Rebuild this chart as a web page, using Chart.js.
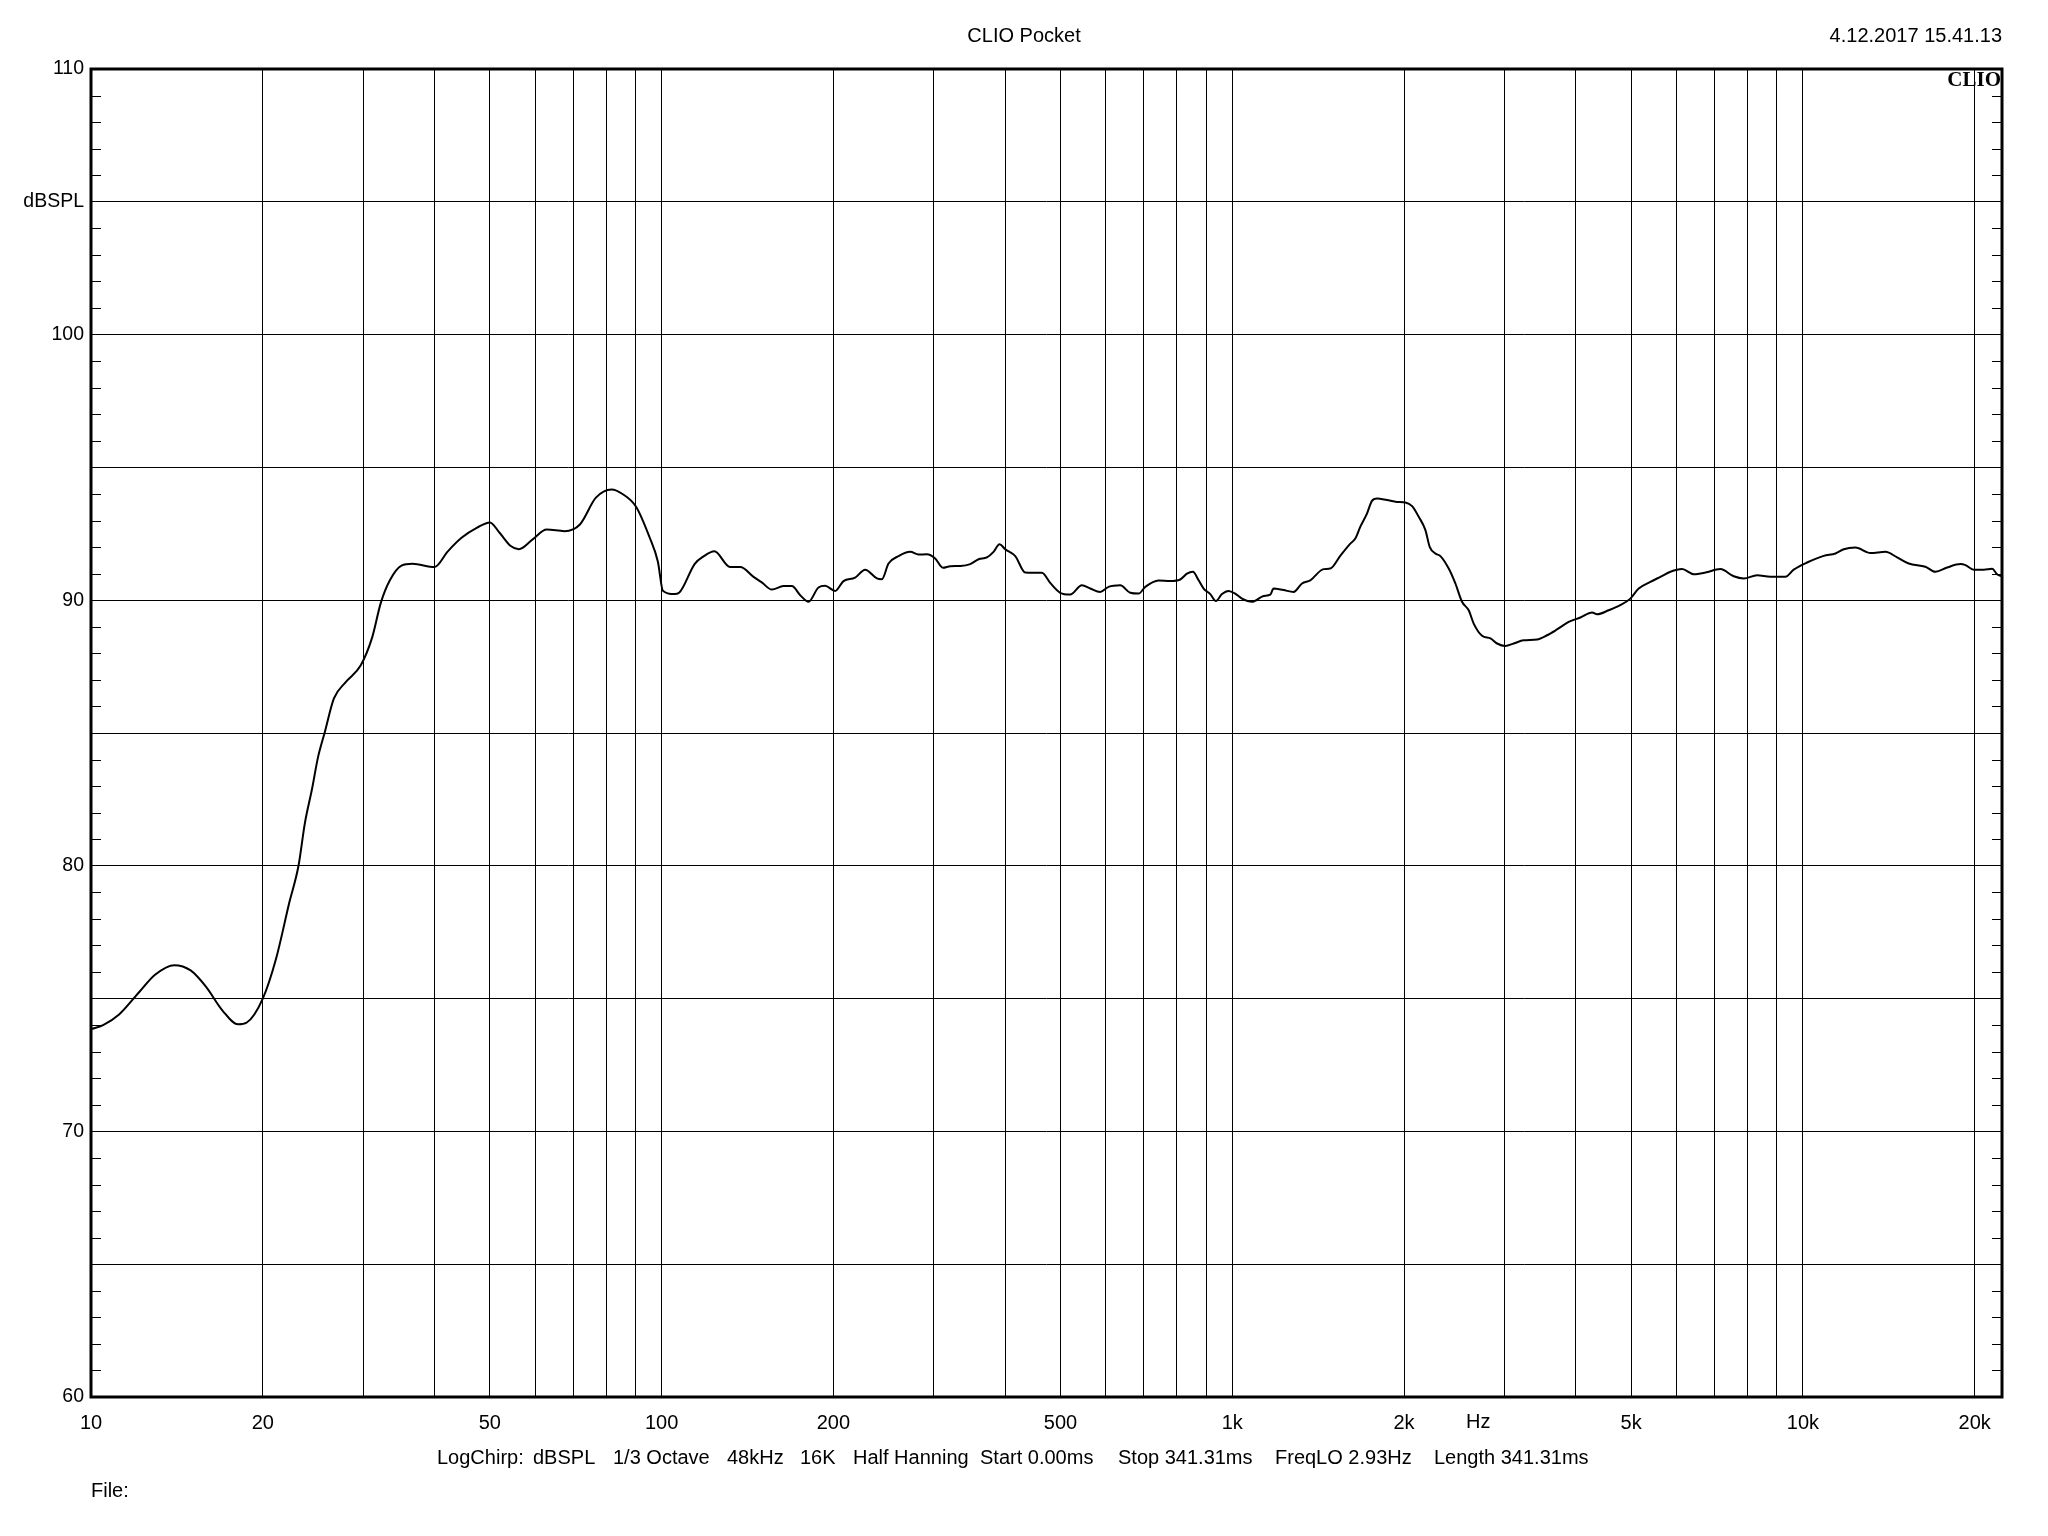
<!DOCTYPE html>
<html><head><meta charset="utf-8">
<script src="https://cdn.jsdelivr.net/npm/chart.js@4.4.1/dist/chart.umd.min.js"></script>
<style>html,body{margin:0;padding:0;background:#fff;}canvas{display:block;background:#fff;}</style>
</head><body>
<canvas id="c" width="2048" height="1536"></canvas>
<script>
const freqHz = [10,10.5,11.2,12.15,12.95,14.0,14.95,15.9,17.0,18.1,18.75,20.0,21.1,22.25,23.1,23.7,24.4,25.0,25.7,26.65,27.9,29.7,31.1,32.2,33.4,35.0,36.6,40.0,42.2,44.6,47.5,50.0,52.0,54.4,56.2,59.5,62.9,67.6,71.9,76.7,81.7,85.4,90.2,95.2,98.5,100.5,105.3,107.3,114.3,118.3,123.7,131.8,137.3,144.9,149.8,156.0,163.5,169.1,174.9,180.9,188.3,193.4,201.4,208.3,218.3,227.3,238.4,243.2,249.8,260.1,272.7,282.0,291.6,301.6,311.1,320.5,333.7,347.4,359.3,371.5,381.6,390.9,400.0,416.6,433.7,448.5,463.8,479.7,499.4,520.0,545.1,563.7,586.9,607.0,636.3,662.5,685.2,703.9,742.7,778.6,810.6,832.9,853.3,873.0,890.8,915.1,936.4,959.2,985.1,1012,1040,1083,1135,1166,1181,1230,1281,1325,1370,1446,1485,1546,1610,1643,1676,1722,1757,1793,1867,1944,2011,2066,2122,2180,2218,2269,2316,2395,2460,2527,2596,2649,2740,2834,2911,3010,3113,3241,3421,3561,3708,3886,4074,4271,4358,4566,4786,4984,5155,5404,5627,5859,6141,6437,6747,7168,7565,7877,8312,8770,9318,9636,10170,10877,11403,11792,12364,13135,13951,14627,15326,16393,17076,17887,18888,19270,19930,20750,21460,21890,22250];
const splDb = [73.85,74.0,74.4,75.25,75.9,76.26,76.06,75.45,74.55,74.03,74.1,75.0,76.5,78.6,80.0,81.6,82.9,84.1,85.05,86.3,86.9,87.55,88.6,89.9,90.75,91.3,91.37,91.25,91.84,92.35,92.73,92.93,92.54,92.04,91.92,92.3,92.66,92.6,92.85,93.86,94.17,94.0,93.52,92.38,91.45,90.36,90.23,90.28,91.37,91.64,91.84,91.25,91.25,90.88,90.67,90.40,90.53,90.53,90.19,89.94,90.48,90.54,90.35,90.72,90.85,91.15,90.82,90.79,91.38,91.66,91.82,91.72,91.73,91.57,91.22,91.28,91.29,91.36,91.54,91.61,91.82,92.11,91.92,91.66,91.04,91.03,91.03,90.65,90.28,90.21,90.56,90.44,90.31,90.50,90.56,90.28,90.25,90.50,90.74,90.72,90.78,91.00,91.07,90.75,90.44,90.23,89.97,90.23,90.35,90.25,90.06,89.94,90.16,90.21,90.44,90.38,90.31,90.63,90.75,91.17,91.19,91.67,92.13,92.32,92.76,93.26,93.74,93.83,93.77,93.70,93.68,93.54,93.14,92.64,92.01,91.76,91.66,91.19,90.63,89.94,89.62,89.12,88.66,88.56,88.37,88.28,88.37,88.49,88.52,88.68,88.90,89.18,89.35,89.54,89.47,89.62,89.81,90.06,90.44,90.69,90.88,91.07,91.17,90.98,91.04,91.17,90.90,90.82,90.94,90.88,90.88,91.15,91.42,91.67,91.76,91.92,91.98,91.78,91.82,91.61,91.38,91.26,91.07,91.23,91.36,91.32,91.15,91.15,91.18,90.98,90.90];
const xTickValues = [10,20,30,40,50,60,70,80,90,100,200,300,400,500,600,700,800,900,1000,2000,3000,4000,5000,6000,7000,8000,9000,10000,20000];
const xTickLabels = {10:'10',20:'20',50:'50',100:'100',200:'200',500:'500',1000:'1k',2000:'2k',5000:'5k',10000:'10k',20000:'20k'};
const yTickLabels = {60:'60',70:'70',80:'80',90:'90',100:'100',105:'dBSPL',110:'110'};
const titleText = 'CLIO Pocket';
const dateText = '4.12.2017 15.41.13';
const brandText = 'CLIO';
const unitText = 'Hz';
const infoParts = ['LogChirp:','dBSPL','1/3 Octave','48kHz','16K','Half Hanning','Start 0.00ms','Stop 341.31ms','FreqLO 2.93Hz','Length 341.31ms'];
const fileText = 'File:';

const FONT = "'Liberation Sans', Arial, sans-serif";
const infoX = [437,533,613,727,800,853,980,1118,1275,1434];

const decor = {
  id: 'decor',
  beforeDraw(chart) {
    const ctx = chart.ctx, a = chart.chartArea;
    ctx.save();
    ctx.fillStyle = '#fff';
    ctx.fillRect(0, 0, chart.width, chart.height);
    ctx.fillStyle = '#000';
    ctx.font = "bold 21px 'Liberation Serif', 'Times New Roman', serif";
    ctx.textAlign = 'right';
    ctx.textBaseline = 'alphabetic';
    ctx.fillText(brandText, a.right - 1, 86);
    ctx.restore();
  },
  afterDraw(chart) {
    const ctx = chart.ctx, a = chart.chartArea, ys = chart.scales.y;
    ctx.save();
    ctx.strokeStyle = '#000';
    ctx.lineWidth = 1;
    for (let v = 61; v < 110; v++) {
      if (v % 5 === 0) continue;
      const py = Math.round(ys.getPixelForValue(v)) + 0.5;
      ctx.beginPath();
      ctx.moveTo(a.left, py); ctx.lineTo(a.left + 10, py);
      ctx.moveTo(a.right - 10, py); ctx.lineTo(a.right, py);
      ctx.stroke();
    }
    ctx.lineWidth = 3;
    ctx.strokeRect(a.left, a.top, a.right - a.left, a.bottom - a.top);
    ctx.fillStyle = '#000';
    ctx.font = '20px ' + FONT;
    ctx.textBaseline = 'middle';
    ctx.textAlign = 'center';
    ctx.fillText(titleText, 1024, 36);
    ctx.textAlign = 'right';
    ctx.fillText(dateText, a.right, 36);
    ctx.textAlign = 'left';
    ctx.fillText(unitText, 1466, 1422);
    infoParts.forEach((t, i) => ctx.fillText(t, infoX[i], 1458));
    ctx.fillText(fileText, 91, 1491);
    ctx.restore();
  }
};

new Chart(document.getElementById('c').getContext('2d'), {
  type: 'line',
  data: { datasets: [{
    data: freqHz.map((f, i) => ({ x: f, y: splDb[i] })),
    borderColor: '#000', borderWidth: 2, pointRadius: 0, cubicInterpolationMode: 'monotone', fill: false
  }]},
  options: {
    responsive: false, animation: false, devicePixelRatio: 1,
    layout: { padding: { left: 0, top: 69, right: 46, bottom: 0 } },
    plugins: { legend: { display: false }, tooltip: { enabled: false }, title: { display: false } },
    scales: {
      x: {
        type: 'logarithmic', min: 10, max: 22330, position: 'bottom',
        afterBuildTicks: s => { s.ticks = xTickValues.map(v => ({ value: v })); },
        afterFit: s => { s.height = 139; },
        ticks: { autoSkip: false, maxRotation: 0, minRotation: 0, padding: 14, color: '#000',
          font: { family: FONT, size: 20 }, callback: v => (xTickLabels[v] !== undefined ? xTickLabels[v] : '') },
        grid: { color: '#000', lineWidth: 1, drawTicks: false },
        border: { display: false }
      },
      y: {
        type: 'linear', min: 60, max: 110, position: 'left',
        afterFit: s => { s.width = 91; },
        ticks: { stepSize: 5, padding: 7, color: '#000',
          font: { family: FONT, size: 19.5 }, callback: v => (yTickLabels[v] !== undefined ? yTickLabels[v] : '') },
        grid: { color: '#000', lineWidth: 1, drawTicks: false },
        border: { display: false }
      }
    }
  },
  plugins: [decor]
});
</script>
</body></html>
